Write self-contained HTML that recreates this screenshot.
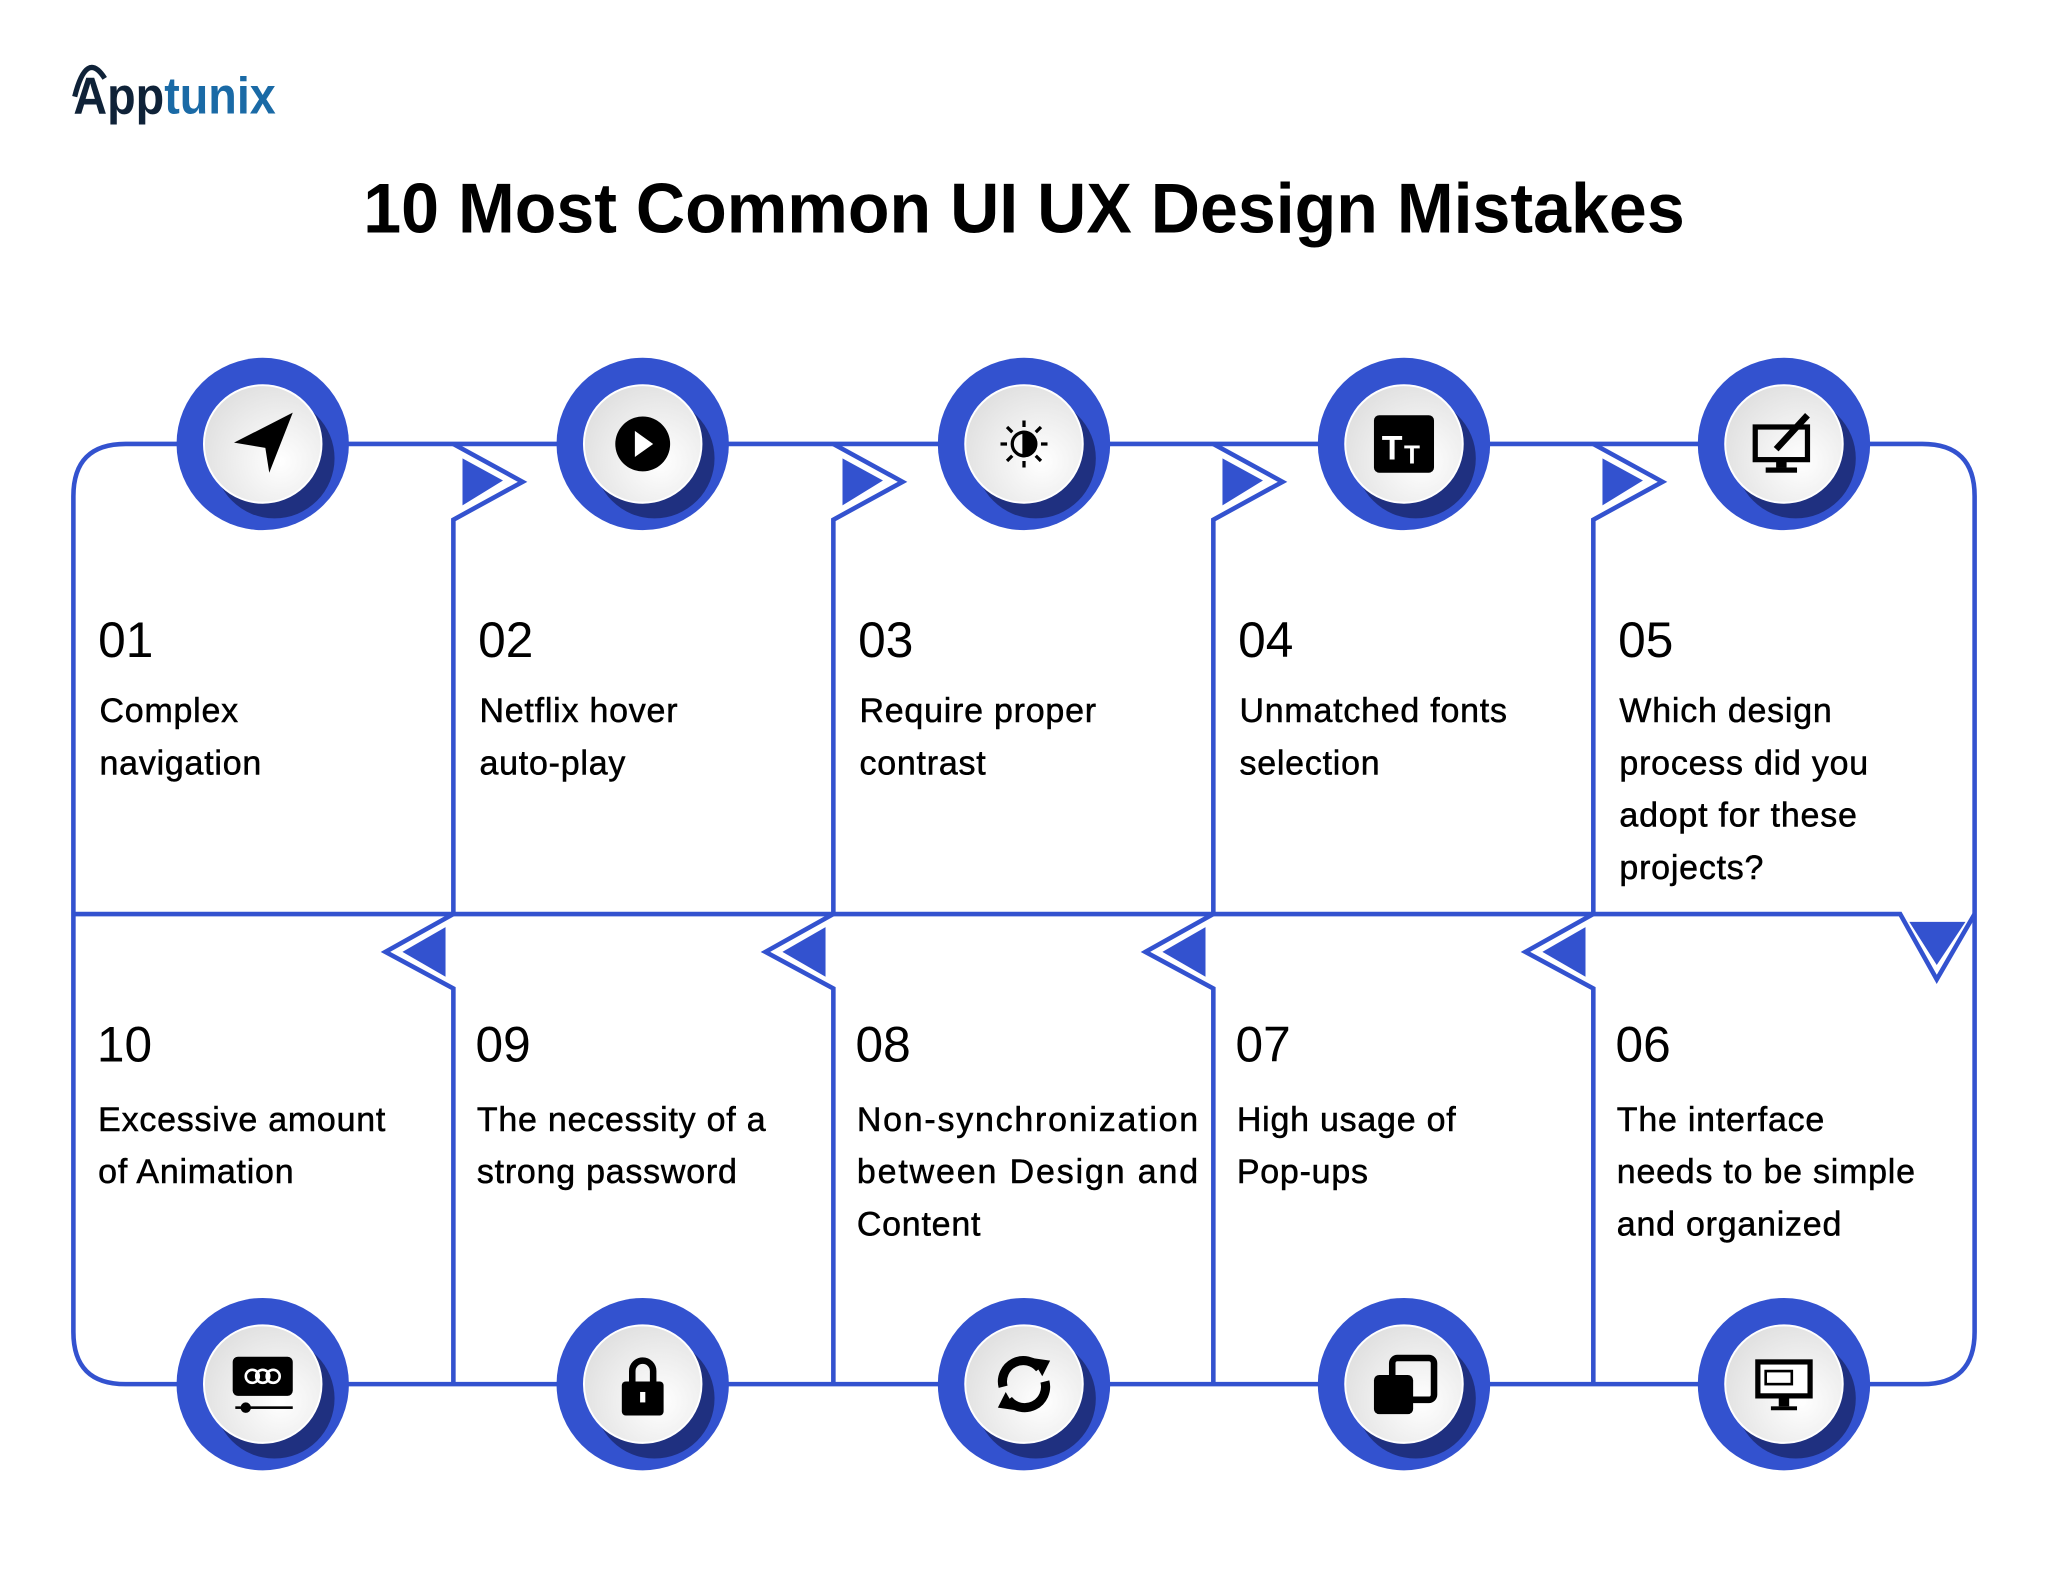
<!DOCTYPE html>
<html><head><meta charset="utf-8"><style>
html,body{margin:0;padding:0;background:#fff;}
svg{display:block;}
text{font-family:"Liberation Sans",sans-serif;fill:#000;}
.num{font-size:38px;}
.lbl{font-size:26px;stroke:#000;stroke-width:0.4px;letter-spacing:0.6px;}
</style></head><body>
<svg width="2048" height="1580" viewBox="0 0 1568 1210" xmlns="http://www.w3.org/2000/svg">
<defs>
<radialGradient id="wg" cx="0.65" cy="0.65" r="0.8"><stop offset="0" stop-color="#ffffff"/><stop offset="1" stop-color="#dcdcdc"/></radialGradient>
<g id="node"><circle r="66" fill="#3352cf"/><circle cx="9" cy="11" r="46" fill="#1f3080"/><circle r="45" fill="url(#wg)" stroke="#fff" stroke-width="1.5"/></g>
</defs>
<!-- logo -->
<text x="56" y="87" font-size="40" font-weight="bold" textLength="155" lengthAdjust="spacingAndGlyphs"><tspan style="fill:#0f2238">App</tspan><tspan style="fill:#1a6aa6">tunix</tspan></text>
<path d="M57 74 Q66 38 80 60" fill="none" stroke="#0f2238" stroke-width="4"/>
<!-- title -->
<text x="784" y="178" font-size="54" font-weight="bold" text-anchor="middle" textLength="1012" lengthAdjust="spacingAndGlyphs">10 Most Common UI UX Design Mistakes</text>
<g fill="none" stroke="#3352cf" stroke-width="3.5" stroke-linejoin="miter">
<path d="M96 340 H1472 Q1512 340 1512 380 V1020 Q1512 1060 1472 1060 H96 Q56 1060 56 1020 V380 Q56 340 96 340 Z"/>
<path d="M56 700 H1455 L1483 750 L1512 700"/>
<path d="M347 340 L400 369 L347 398 V700"/>
<path d="M638 340 L691 369 L638 398 V700"/>
<path d="M929 340 L982 369 L929 398 V700"/>
<path d="M1220 340 L1273 369 L1220 398 V700"/>
<path d="M347 700 L295 729 L347 757 V1060"/>
<path d="M638 700 L586 729 L638 757 V1060"/>
<path d="M929 700 L877 729 L929 757 V1060"/>
<path d="M1220 700 L1168 729 L1220 757 V1060"/>
</g>
<g fill="#3352cf">
<polygon points="354,351 385,368 354,387"/>
<polygon points="645,351 676,368 645,387"/>
<polygon points="936,351 967,368 936,387"/>
<polygon points="1227,351 1258,368 1227,387"/>
<polygon points="341,710 308,729 341,748"/>
<polygon points="632,710 599,729 632,748"/>
<polygon points="923,710 890,729 923,748"/>
<polygon points="1214,710 1181,729 1214,748"/>
<polygon points="1462,706 1505,706 1483,739"/>
</g>
<!-- nodes -->
<use href="#node" x="201" y="340"/><use href="#node" x="492" y="340"/><use href="#node" x="784" y="340"/><use href="#node" x="1075" y="340"/><use href="#node" x="1366" y="340"/>
<use href="#node" x="201" y="1060"/><use href="#node" x="492" y="1060"/><use href="#node" x="784" y="1060"/><use href="#node" x="1075" y="1060"/><use href="#node" x="1366" y="1060"/>
<!-- icons -->
<polygon points="179,339 224,316 206,362 203,343" fill="#000"/>
<circle cx="492" cy="340" r="21" fill="#000"/><polygon points="486,330 500,340 486,350" fill="#fff"/>
<g stroke="#000" stroke-width="2.5"><circle cx="784" cy="340" r="9" fill="none"/><path d="M784 331 A9 9 0 0 1 784 349Z" fill="#000"/>
<path d="M784 322v5M784 353v5M766 340h5M797 340h5M771 327l4 4M793 349l4 4M797 327l-4 4M775 349l-4 4"/></g>
<rect x="1052" y="318" width="46" height="44" rx="4" fill="#000"/><text x="1058" y="352" font-size="26" font-weight="bold" style="fill:#fff">T</text><text x="1075" y="355" font-size="20" font-weight="bold" style="fill:#fff">T</text>
<rect x="1344" y="327" width="40" height="25" fill="none" stroke="#000" stroke-width="4"/><rect x="1360" y="352" width="8" height="6" fill="#000"/><rect x="1352" y="358" width="24" height="4" fill="#000"/><path d="M1360 344 L1384 318" stroke="#000" stroke-width="5"/>
<rect x="178" y="1039" width="46" height="30" rx="4" fill="#000"/><g fill="none" stroke="#fff" stroke-width="2"><circle cx="193" cy="1054" r="5"/><circle cx="201" cy="1054" r="5"/><circle cx="209" cy="1054" r="5"/></g><circle cx="188" cy="1078" r="4" fill="#000"/><rect x="180" y="1077" width="44" height="2" fill="#000"/>
<path d="M484 1060 V1050 A8 8 0 0 1 500 1050 V1060" fill="none" stroke="#000" stroke-width="5"/><rect x="476" y="1058" width="32" height="26" rx="3" fill="#000"/><rect x="490" y="1066" width="4" height="8" fill="#fff"/>
<g fill="none" stroke="#000" stroke-width="7"><path d="M768 1062 A16 16 0 0 1 796 1048"/><path d="M800 1058 A16 16 0 0 1 772 1072"/></g><polygon points="790,1040 804,1042 798,1054" fill="#000"/><polygon points="778,1080 764,1078 770,1066" fill="#000"/>
<rect x="1052" y="1053" width="30" height="30" rx="4" fill="#000"/><rect x="1066" y="1040" width="32" height="32" rx="4" fill="none" stroke="#000" stroke-width="5"/>
<rect x="1344" y="1041" width="44" height="30" fill="#000"/><rect x="1348" y="1045" width="36" height="22" fill="#fff"/><rect x="1352" y="1050" width="20" height="10" fill="none" stroke="#000" stroke-width="2"/><rect x="1362" y="1071" width="8" height="6" fill="#000"/><rect x="1356" y="1077" width="20" height="3" fill="#000"/>
<!-- texts top -->
<text class="num" x="75" y="503">01</text><text class="lbl" x="76" y="553">Complex</text><text class="lbl" x="76" y="593">navigation</text>
<text class="num" x="366" y="503">02</text><text class="lbl" x="367" y="553">Netflix hover</text><text class="lbl" x="367" y="593">auto-play</text>
<text class="num" x="657" y="503">03</text><text class="lbl" x="658" y="553">Require proper</text><text class="lbl" x="658" y="593">contrast</text>
<text class="num" x="948" y="503">04</text><text class="lbl" x="949" y="553">Unmatched fonts</text><text class="lbl" x="949" y="593">selection</text>
<text class="num" x="1239" y="503">05</text><text class="lbl" x="1240" y="553">Which design</text><text class="lbl" x="1240" y="593">process did you</text><text class="lbl" x="1240" y="633">adopt for these</text><text class="lbl" x="1240" y="673">projects?</text>
<!-- texts bottom -->
<text class="num" x="74" y="813">10</text><text class="lbl" x="75" y="866">Excessive amount</text><text class="lbl" x="75" y="906">of Animation</text>
<text class="num" x="364" y="813">09</text><text class="lbl" x="365" y="866">The necessity of a</text><text class="lbl" x="365" y="906">strong password</text>
<text class="num" x="655" y="813">08</text><text class="lbl" x="656" y="866" textLength="262">Non-synchronization</text><text class="lbl" x="656" y="906" textLength="262">between Design and</text><text class="lbl" x="656" y="946">Content</text>
<text class="num" x="946" y="813">07</text><text class="lbl" x="947" y="866">High usage of</text><text class="lbl" x="947" y="906">Pop-ups</text>
<text class="num" x="1237" y="813">06</text><text class="lbl" x="1238" y="866">The interface</text><text class="lbl" x="1238" y="906">needs to be simple</text><text class="lbl" x="1238" y="946">and organized</text>
</svg>
</body></html>
